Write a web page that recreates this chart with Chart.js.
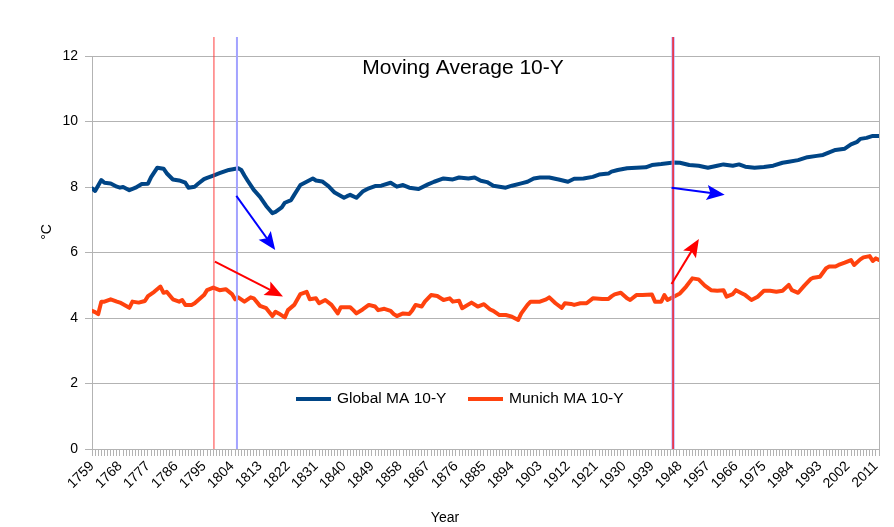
<!DOCTYPE html>
<html lang="en">
<head>
<meta charset="UTF-8" />
<title>Moving Average 10-Y</title>
<script src="https://cdn.jsdelivr.net/npm/chart.js@4"></script>
<style>
  html,body{margin:0;padding:0;background:#fff;}
  canvas{display:block;}
</style>
</head>
<body>
<canvas id="chart" width="894" height="527"></canvas>
<script>
// ── values (10-year moving averages, °C) ────────────────────────────────
const globalYears = [
  1759,1760,1762,1763,1765,1767,1768,1769,1771,1773,
  1775,1777,1778,1780,1782,1783,1785,1787,1789,1790,
  1792,1793,1795,1796,1798,1800,1803,1806,1807,1808,
  1809,1811,1813,1815,1817,1818,1820,1821,1823,1824,
  1826,1828,1830,1831,1833,1835,1837,1840,1841,1842,
  1844,1846,1848,1850,1852,1855,1857,1859,1861,1864,
  1867,1869,1872,1875,1877,1880,1882,1884,1886,1888,
  1890,1892,1894,1897,1899,1901,1903,1906,1909,1912,
  1914,1917,1920,1922,1925,1926,1928,1931,1934,1937,
  1939,1942,1946,1948,1951,1954,1957,1960,1962,1965,
  1967,1969,1972,1975,1978,1981,1983,1986,1989,1992,
  1994,1996,1998,2001,2003,2005,2006,2008,2010,2012];
const globalTemps = [
  7.96,7.88,8.21,8.13,8.11,8.01,7.98,8.00,7.90,7.98,
  8.09,8.10,8.30,8.59,8.56,8.42,8.23,8.20,8.13,7.98,
  8.01,8.09,8.24,8.28,8.35,8.42,8.52,8.57,8.52,8.35,
  8.20,7.91,7.70,7.42,7.20,7.24,7.38,7.52,7.60,7.76,
  8.06,8.16,8.26,8.20,8.17,8.03,7.83,7.67,7.72,7.76,
  7.67,7.86,7.96,8.03,8.04,8.13,8.01,8.06,7.98,7.94,
  8.08,8.16,8.26,8.23,8.29,8.26,8.29,8.19,8.15,8.04,
  8.01,7.98,8.04,8.11,8.16,8.26,8.29,8.29,8.23,8.16,
  8.25,8.26,8.31,8.38,8.41,8.47,8.52,8.57,8.59,8.60,
  8.67,8.70,8.75,8.74,8.67,8.65,8.59,8.65,8.69,8.65,
  8.69,8.62,8.59,8.61,8.65,8.74,8.77,8.82,8.91,8.95,
  8.98,9.06,9.13,9.17,9.30,9.38,9.47,9.50,9.56,9.56];

const munichYears = [
  1759,1760,1761,1762,1763,1765,1767,1768,1771,1772,
  1774,1776,1777,1779,1781,1782,1783,1785,1787,1788,
  1789,1791,1792,1795,1796,1798,1800,1802,1804,1805,
  1806,1808,1810,1811,1813,1815,1817,1818,1819,1821,
  1822,1824,1826,1828,1829,1831,1832,1834,1836,1838,
  1839,1842,1843,1844,1846,1848,1850,1851,1853,1855,
  1856,1857,1859,1861,1862,1863,1865,1866,1868,1870,
  1872,1874,1875,1877,1878,1881,1883,1885,1887,1888,
  1890,1892,1894,1896,1897,1899,1900,1903,1905,1906,
  1908,1910,1911,1913,1914,1916,1918,1920,1923,1925,
  1926,1927,1929,1931,1932,1934,1936,1939,1940,1942,
  1943,1944,1946,1948,1950,1952,1954,1956,1958,1960,
  1962,1963,1965,1966,1968,1969,1971,1973,1975,1977,
  1979,1981,1983,1984,1986,1988,1990,1991,1993,1995,
  1996,1998,1999,2001,2003,2004,2006,2007,2009,2010,
  2011,2012];
const munichTemps = [
  4.22,4.18,4.12,4.50,4.50,4.57,4.50,4.47,4.31,4.50,
  4.47,4.52,4.67,4.80,4.96,4.77,4.80,4.57,4.50,4.55,
  4.40,4.40,4.45,4.70,4.85,4.93,4.85,4.88,4.73,4.57,
  4.63,4.50,4.63,4.60,4.37,4.30,4.06,4.19,4.14,4.02,
  4.24,4.40,4.73,4.80,4.57,4.60,4.45,4.55,4.40,4.14,
  4.33,4.33,4.24,4.14,4.26,4.40,4.35,4.24,4.28,4.22,
  4.12,4.06,4.14,4.12,4.24,4.40,4.35,4.50,4.70,4.67,
  4.55,4.60,4.50,4.53,4.30,4.47,4.35,4.42,4.26,4.22,
  4.09,4.09,4.04,3.94,4.14,4.40,4.50,4.50,4.57,4.63,
  4.45,4.31,4.45,4.43,4.40,4.45,4.45,4.60,4.58,4.58,
  4.66,4.72,4.77,4.60,4.55,4.70,4.70,4.72,4.50,4.50,
  4.70,4.55,4.65,4.75,4.96,5.21,5.18,4.99,4.85,4.83,
  4.85,4.65,4.73,4.85,4.75,4.70,4.55,4.65,4.83,4.83,
  4.80,4.83,5.01,4.85,4.77,4.99,5.19,5.23,5.26,5.52,
  5.57,5.57,5.62,5.69,5.77,5.62,5.79,5.85,5.89,5.74,
  5.82,5.77];

const seriesNames = ['Global MA 10-Y', 'Munich MA 10-Y'];
const firstYear = 1759, lastYear = 2012, labelEvery = 9;
const tempMin = 0, tempMax = 12, tempStep = 2;

// hand-drawn marks on the original, in data units (year, °C)
const markerLines = [
  {year: 1805.6, color: '#a3a3ff', width: 2},
  {year: 1798.2, color: '#ff3b3b', width: 1},
  {year: 1945.8, color: '#a3a3ff', width: 3},
  {year: 1945.8, color: '#ff1a1a', width: 1.4}
];
const arrows = [
  {from: [1805.4, 7.73], to: [1817.9, 6.08], color: '#0000ff'},
  {from: [1798.5, 5.72], to: [1820.4, 4.66], color: '#ff0000'},
  {from: [1945.3, 7.98], to: [1962.4, 7.76], color: '#0000ff'},
  {from: [1945.3, 5.04], to: [1954.1, 6.41], color: '#ff0000'}
];

const BLUE = '#004586', ORANGE = '#ff420e', GRID = '#b3b3b3';
const FONT = '"Liberation Sans", Arial, sans-serif';

const toPoints = (xs, ys) => xs.map((x, i) => ({x, y: ys[i]}));

// ── overlay: markers, arrows, title, legend, axis titles ────────────────
function drawArrow(ctx, x0, y0, x1, y1, color){
  const ang = Math.atan2(y1 - y0, x1 - x0), head = 18, half = 7.5;
  const cos = Math.cos(ang), sin = Math.sin(ang);
  const bx = x1 - head * cos, by = y1 - head * sin;
  ctx.strokeStyle = color; ctx.fillStyle = color; ctx.lineWidth = 2;
  ctx.beginPath(); ctx.moveTo(x0, y0); ctx.lineTo(x1 - 10 * cos, y1 - 10 * sin); ctx.stroke();
  ctx.beginPath();
  ctx.moveTo(x1, y1);
  ctx.lineTo(bx + half * sin, by - half * cos);
  ctx.lineTo(x1 - head * 0.8 * cos, y1 - head * 0.8 * sin);
  ctx.lineTo(bx - half * sin, by + half * cos);
  ctx.closePath(); ctx.fill();
}

const overlay = {
  id: 'overlay',
  afterDatasetsDraw(chart){
    const {ctx, chartArea: a, scales: {x, y}} = chart;
    ctx.save();
    markerLines.forEach(m => {
      const px = x.getPixelForValue(m.year);
      ctx.strokeStyle = m.color; ctx.lineWidth = m.width;
      ctx.beginPath(); ctx.moveTo(px, a.top - 19); ctx.lineTo(px, a.bottom); ctx.stroke();
    });
    arrows.forEach(r => drawArrow(ctx,
      x.getPixelForValue(r.from[0]), y.getPixelForValue(r.from[1]),
      x.getPixelForValue(r.to[0]), y.getPixelForValue(r.to[1]), r.color));
    ctx.restore();
  },
  afterDraw(chart){
    const {ctx} = chart;
    ctx.save();
    ctx.fillStyle = '#000';
    ctx.textBaseline = 'middle';
    // title inside the plot
    ctx.font = '21px ' + FONT; ctx.textAlign = 'center';
    ctx.fillText('Moving Average 10-Y', 463, 68);
    // legend
    ctx.font = '15.5px ' + FONT; ctx.textAlign = 'left';
    [[296, BLUE, seriesNames[0]], [468, ORANGE, seriesNames[1]]].forEach(([lx, c, t]) => {
      ctx.strokeStyle = c; ctx.lineWidth = 4;
      ctx.beginPath(); ctx.moveTo(lx, 399); ctx.lineTo(lx + 35, 399); ctx.stroke();
      ctx.fillText(t, lx + 41, 399);
    });
    // axis titles
    ctx.font = '14px ' + FONT; ctx.textAlign = 'center';
    ctx.fillText('Year', 445, 518);
    ctx.translate(47, 232); ctx.rotate(-Math.PI / 2);
    ctx.fillText('°C', 0, 0);
    ctx.restore();
  }
};

new Chart(document.getElementById('chart'), {
  type: 'line',
  data: {
    datasets: [
      {label: seriesNames[0], data: toPoints(globalYears, globalTemps), borderColor: BLUE},
      {label: seriesNames[1], data: toPoints(munichYears, munichTemps), borderColor: ORANGE}
    ]
  },
  options: {
    responsive: false,
    animation: false,
    devicePixelRatio: 1,
    layout: {padding: {top: 56, right: 15, left: 0, bottom: 0}},
    elements: {
      point: {radius: 0},
      line: {borderWidth: 4, tension: 0, borderJoinStyle: 'round', borderCapStyle: 'round', fill: false}
    },
    plugins: {legend: {display: false}, tooltip: {enabled: false}},
    scales: {
      x: {
        type: 'linear', min: firstYear, max: lastYear,
        afterFit: s => { s.height = 78; },
        grid: {
          color: c => (c.tick && c.tick.value === lastYear) ? GRID : 'rgba(0,0,0,0)',
          tickColor: GRID, tickLength: 7, drawTicks: true
        },
        border: {color: GRID},
        ticks: {
          stepSize: 1, autoSkip: false, maxRotation: 45, minRotation: 45, padding: 2,
          color: '#000', font: {family: FONT, size: 14},
          callback: v => ((v - firstYear) % labelEvery === 0 ? String(v) : '')
        }
      },
      y: {
        min: tempMin, max: tempMax,
        afterFit: s => { s.width = 92; },
        grid: {color: GRID, tickLength: 7},
        border: {color: GRID},
        ticks: {stepSize: tempStep, padding: 7, color: '#000', font: {family: FONT, size: 14}}
      }
    }
  },
  plugins: [overlay]
});
</script>
</body>
</html>
